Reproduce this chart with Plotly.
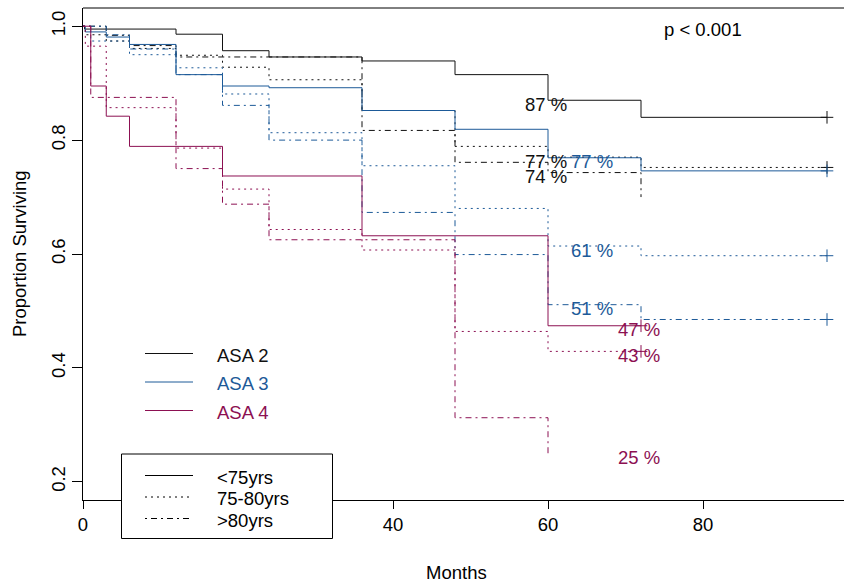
import plotly.graph_objects as go

# ---------------- data ----------------
# Kaplan-Meier steps: each value holds from its time onward; last time is the end of follow-up
asa2_lt75_t = [0, 0.2, 12, 18, 24, 36, 48, 60, 72, 96]
asa2_lt75_s = [1.0, 0.995, 0.986, 0.957, 0.946, 0.939, 0.915, 0.870, 0.840, 0.840]

asa2_75_80_t = [0, 0.3, 3, 6, 12, 18, 24, 36, 48, 60, 72, 96]
asa2_75_80_s = [1.0, 0.985, 0.974, 0.961, 0.949, 0.928, 0.906, 0.852, 0.789, 0.770, 0.752, 0.752]

asa2_gt80_t = [0, 3, 6, 12, 36, 48, 60, 72]
asa2_gt80_s = [1.0, 0.984, 0.966, 0.946, 0.817, 0.761, 0.743, 0.700]

asa3_lt75_t = [0, 0.3, 3, 6, 12, 18, 24, 36, 48, 60, 72, 96]
asa3_lt75_s = [1.0, 0.990, 0.981, 0.968, 0.915, 0.895, 0.892, 0.852, 0.819, 0.769, 0.746, 0.746]

asa3_75_80_t = [0, 1, 6, 12, 18, 24, 36, 48, 60, 72, 96]
asa3_75_80_s = [1.0, 0.974, 0.950, 0.927, 0.881, 0.813, 0.755, 0.680, 0.614, 0.597, 0.597]

asa3_gt80_t = [0, 3, 6, 12, 18, 24, 36, 48, 60, 72, 96]
asa3_gt80_s = [1.0, 0.985, 0.960, 0.915, 0.861, 0.800, 0.673, 0.599, 0.511, 0.485, 0.485]

asa4_lt75_t = [0, 1, 3, 6, 18, 36, 60, 72]
asa4_lt75_s = [1.0, 0.895, 0.842, 0.789, 0.737, 0.632, 0.474, 0.474]

asa4_75_80_t = [0, 0.3, 3, 12, 18, 24, 36, 48, 60, 72]
asa4_75_80_s = [1.0, 0.965, 0.857, 0.786, 0.714, 0.643, 0.607, 0.464, 0.429, 0.429]

asa4_gt80_t = [0, 1, 12, 18, 24, 48, 60]
asa4_gt80_s = [1.0, 0.875, 0.750, 0.6875, 0.625, 0.3125, 0.250]

asa_groups = ["ASA 2", "ASA 3", "ASA 4"]
age_groups = ["<75yrs", "75-80yrs", ">80yrs"]
x_ticks = [0, 20, 40, 60, 80]
y_ticks = [0.2, 0.4, 0.6, 0.8, 1.0]
p_text = "p < 0.001"
x_title = "Months"
y_title = "Proportion Surviving"

# ---------------- styling ----------------
W, H = 844, 585
ML, MR, MT, MB = 83, 0, 8, 85
PX_PER_MONTH = 7.75
X_RANGE = [0, (W - ML - MR) / PX_PER_MONTH]
Y_RANGE = [0.168, 1.032]
FONT = "Liberation Sans, Arial, sans-serif"
FS = 18.5

asa_colors = {"ASA 2": "#111111", "ASA 3": "#1d5a98", "ASA 4": "#8c1052"}
age_dash = {"<75yrs": "solid", "75-80yrs": "2px,4px", ">80yrs": "2px,4px,6px,4px"}

curves = [
    ("ASA 2", "<75yrs", asa2_lt75_t, asa2_lt75_s, True),
    ("ASA 2", "75-80yrs", asa2_75_80_t, asa2_75_80_s, True),
    ("ASA 2", ">80yrs", asa2_gt80_t, asa2_gt80_s, False),
    ("ASA 3", "<75yrs", asa3_lt75_t, asa3_lt75_s, True),
    ("ASA 3", "75-80yrs", asa3_75_80_t, asa3_75_80_s, True),
    ("ASA 3", ">80yrs", asa3_gt80_t, asa3_gt80_s, True),
    ("ASA 4", "<75yrs", asa4_lt75_t, asa4_lt75_s, True),
    ("ASA 4", "75-80yrs", asa4_75_80_t, asa4_75_80_s, True),
    ("ASA 4", ">80yrs", asa4_gt80_t, asa4_gt80_s, False),
]

# x position of the 5-year survival labels for each ASA grade
label_x = {"ASA 2": 59.7, "ASA 3": 65.7, "ASA 4": 71.7}


def surv_at(t, times, surv):
    val = surv[0]
    for ti, si in zip(times, surv):
        if ti <= t:
            val = si
    return val


fig = go.Figure()
annotations = []

for asa, age, times, surv, censored in curves:
    color = asa_colors[asa]
    fig.add_trace(go.Scatter(
        x=times, y=surv, mode="lines",
        line=dict(shape="hv", color=color, width=1, dash=age_dash[age]),
        showlegend=False, hoverinfo="skip",
    ))
    if censored:
        fig.add_trace(go.Scatter(
            x=[times[-1]], y=[surv[-1]], mode="markers",
            marker=dict(symbol="cross-thin-open", size=9, color=color,
                        line=dict(color=color, width=1)),
            showlegend=False, hoverinfo="skip",
        ))
    v60 = surv_at(60, times, surv)
    annotations.append(dict(
        x=label_x[asa], y=v60 - 0.007, xref="x", yref="y",
        text=f"{round(v60 * 100)} %", showarrow=False,
        font=dict(family=FONT, size=FS, color=color),
        xanchor="center", yanchor="middle",
    ))

# p-value
annotations.append(dict(x=80, y=0.995, xref="x", yref="y", text=p_text,
                        showarrow=False, font=dict(family=FONT, size=FS, color="#000000"),
                        xanchor="center", yanchor="middle"))

PLOT_W = W - ML - MR
PLOT_H = H - MT - MB


def px_x(px):
    return (px - ML) / PLOT_W


def px_y(py):
    return (H - MB - py) / PLOT_H


shapes = []

# top border of the plot box
shapes.append(dict(type="line", xref="paper", yref="paper", x0=0, x1=1, y0=1, y1=1,
                   line=dict(color="#000000", width=1), layer="above"))

# legend for ASA grade (colour)
asa_rows = [353.5, 382.0, 410.5]
for name, py in zip(asa_groups, asa_rows):
    shapes.append(dict(type="line", xref="paper", yref="paper",
                       x0=px_x(145), x1=px_x(193), y0=px_y(py), y1=px_y(py),
                       line=dict(color=asa_colors[name], width=1), layer="above"))
    annotations.append(dict(x=px_x(215), y=px_y(py + 2), xref="paper", yref="paper",
                            text=name, showarrow=False, xanchor="left", yanchor="middle",
                            font=dict(family=FONT, size=FS, color=asa_colors[name])))

# legend for age group (line type), boxed
shapes.append(dict(type="rect", xref="paper", yref="paper",
                   x0=px_x(121.5), x1=px_x(332.5), y0=px_y(538.5), y1=px_y(454),
                   line=dict(color="#000000", width=1), fillcolor="#ffffff", layer="above"))
age_rows = [475.5, 497.0, 518.5]
for name, py in zip(age_groups, age_rows):
    shapes.append(dict(type="line", xref="paper", yref="paper",
                       x0=px_x(145), x1=px_x(193), y0=px_y(py), y1=px_y(py),
                       line=dict(color="#000000", width=1, dash=age_dash[name]), layer="above"))
    annotations.append(dict(x=px_x(215), y=px_y(py + 1.5), xref="paper", yref="paper",
                            text=name, showarrow=False, xanchor="left", yanchor="middle",
                            font=dict(family=FONT, size=FS, color="#000000")))

# axis titles
annotations.append(dict(x=px_x(456), y=px_y(572), xref="paper", yref="paper", text=x_title,
                        showarrow=False, xanchor="center", yanchor="middle",
                        font=dict(family=FONT, size=FS, color="#000000")))
annotations.append(dict(x=px_x(19), y=px_y(254), xref="paper", yref="paper", text=y_title,
                        showarrow=False, xanchor="center", yanchor="middle", textangle=-90,
                        font=dict(family=FONT, size=FS, color="#000000")))

fig.update_layout(
    width=W, height=H,
    margin=dict(l=ML, r=MR, t=MT, b=MB, pad=0),
    paper_bgcolor="#ffffff", plot_bgcolor="#ffffff",
    showlegend=False,
    annotations=annotations,
    shapes=shapes,
    font=dict(family=FONT, size=FS, color="#000000"),
    xaxis=dict(range=X_RANGE, tickvals=x_ticks, ticktext=[str(v) for v in x_ticks],
               showgrid=False, zeroline=False, showline=True, linecolor="#000000", linewidth=1,
               ticks="outside", ticklen=8, tickwidth=1, tickcolor="#000000",
               tickfont=dict(family=FONT, size=FS, color="#000000")),
    yaxis=dict(range=Y_RANGE, tickvals=y_ticks, ticktext=[f"{v:.1f}" for v in y_ticks],
               showgrid=False, zeroline=False, showline=True, linecolor="#000000", linewidth=1,
               ticks="outside", ticklen=10, tickwidth=1, tickcolor="#000000", tickangle=-90,
               tickfont=dict(family=FONT, size=FS, color="#000000")),
)

fig.write_html("out.html")
